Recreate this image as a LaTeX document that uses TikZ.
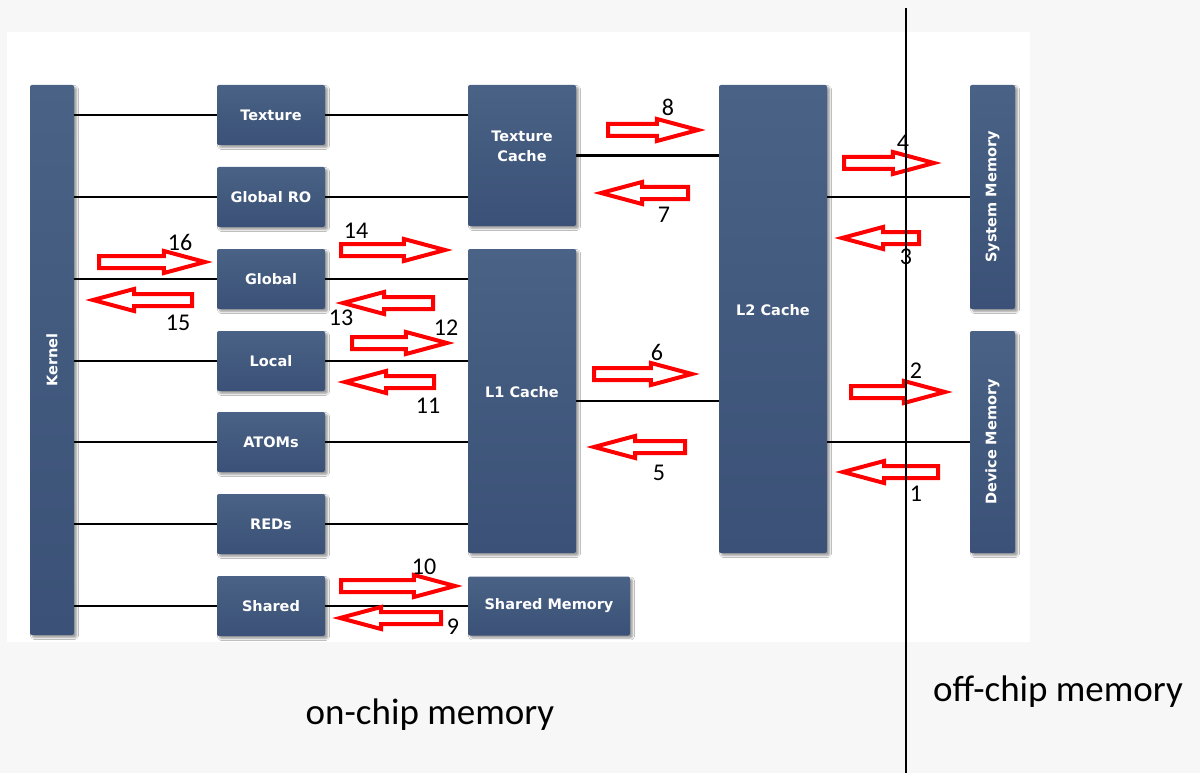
\documentclass[tikz,border=0pt]{standalone}
\usepackage{fontspec}
\setmainfont{Carlito}
\newfontfamily\chipfont{DejaVu Sans}
\usetikzlibrary{shapes.arrows,shadows.blur}
\definecolor{chiptop}{HTML}{4A6286}
\definecolor{chipbot}{HTML}{3B5177}
\definecolor{pagegray}{HTML}{F7F7F7}
\definecolor{flowred}{HTML}{FF0000}
\newcommand{\ChipText}{\chipfont\bfseries\fontsize{14.5}{19}\selectfont}

\begin{document}
\begin{tikzpicture}[
  x=1pt, y=-1pt,
  chip/.style={
    rectangle, rounded corners=2pt, draw=none,
    top color=chiptop, bottom color=chipbot,
    text=white, font=\ChipText, align=center,
    inner sep=0pt, blur shadow={shadow xshift=2.5pt, shadow yshift=-2.5pt, shadow blur steps=6}
  },
  chiplabel/.style={font=\ChipText, text=white, align=center, inner sep=0pt},
  smallchip/.style={chip, minimum width=108pt, minimum height=60pt},
  wire/.style={line width=2.6pt, draw=black},
  flow/.style={
    single arrow, draw=flowred, fill=white, line width=4pt,
    minimum height=#1, minimum width=0pt, inner xsep=0pt, inner ysep=4pt,
    single arrow head extend=5pt, single arrow tip angle=30, anchor=tail
  },
  flowback/.style={flow=#1, shape border rotate=180},
  tag/.style={font=\fontsize{24}{26}\selectfont, inner sep=0pt},
  region/.style={font=\fontsize{37}{40}\selectfont, inner sep=0pt}
]

% ---------- Page + panel ----------
\fill[pagegray] (0,0) rectangle (1200,773);
\fill[white] (7,32) rectangle (1030,642);
\useasboundingbox (0,0) rectangle (1200,773);

% ---------- Blocks ----------
\node[chip, minimum width=44pt, minimum height=550pt,
      label={[chiplabel, rotate=90]center:Kernel}] (kernel) at (52,360) {};

\node[smallchip] (texture)  at (271,115) {Texture};
\node[smallchip] (globalro) at (271,197) {Global RO};
\node[smallchip] (global)   at (271,279) {Global};
\node[smallchip] (local)    at (271,361) {Local};
\node[smallchip] (atoms)    at (271,442) {ATOMs};
\node[smallchip] (reds)     at (271,524) {REDs};
\node[smallchip] (shared)   at (271,606) {Shared};

\node[chip, minimum width=108pt, minimum height=141pt,
      label={[chiplabel, yshift=9pt]center:Texture\\[1pt]Cache}] (texcache) at (522,155.5) {};
\node[chip, minimum width=108pt, minimum height=304pt,
      label={[chiplabel, yshift=9pt]center:L1 Cache}] (lone) at (522,401) {};
\node[chip, minimum width=162pt, minimum height=59pt] (sharedmem) at (549,606) {Shared Memory};
\node[chip, minimum width=108pt, minimum height=468pt,
      label={[chiplabel, yshift=9pt]center:L2 Cache}] (ltwo) at (773,319) {};

\node[chip, minimum width=45pt, minimum height=224pt,
      label={[chiplabel, rotate=90]center:System Memory}] (sysmem) at (992.5,197) {};
\node[chip, minimum width=45pt, minimum height=222pt,
      label={[chiplabel, rotate=90]center:Device Memory}] (devmem) at (992.5,442) {};

% ---------- Wires ----------
\foreach \blk in {texture, globalro, global, local, atoms, reds, shared}
  \draw[wire] (kernel.east |- \blk) -- (\blk.west);
\draw[wire] (texture.east)  -- (texcache.west |- texture);
\draw[wire] (globalro.east) -- (texcache.west |- globalro);
\draw[wire] (global.east)   -- (lone.west |- global);
\draw[wire] (local.east)    -- (lone.west |- local);
\draw[wire] (atoms.east)    -- (lone.west |- atoms);
\draw[wire] (reds.east)     -- (lone.west |- reds);
\draw[wire] (shared.east)   -- (sharedmem.west |- shared);
\draw[wire] (texcache.east) -- (ltwo.west |- texcache);
\draw[wire] (lone.east)     -- (ltwo.west |- lone);
\draw[wire] (ltwo.east |- sysmem) -- (sysmem.west);
\draw[wire] (ltwo.east |- devmem) -- (devmem.west);

% ---------- Flow arrows (placed by their tail) ----------
\node[flow=106pt]     (f16) at (97,262)  {};
\node[flowback=99pt]  (f15) at (194,300) {};
\node[flow=104pt]     (f14) at (339,250) {};
\node[flowback=90pt]  (f13) at (435,303) {};
\node[flow=95pt]      (f12) at (350,343) {};
\node[flowback=89pt]  (f11) at (436,382) {};
\node[flow=114pt]     (f10) at (339,586) {};
\node[flowback=101pt] (f9)  at (443,618) {};
\node[flow=90pt]      (f8)  at (606,130) {};
\node[flowback=87pt]  (f7)  at (690,193) {};
\node[flow=98pt]      (f6)  at (592,374) {};
\node[flowback=91pt]  (f5)  at (687,447) {};
\node[flow=90pt]      (f4)  at (842,163) {};
\node[flowback=77pt]  (f3)  at (921,238) {};
\node[flow=94pt]      (f2)  at (849,392) {};
\node[flowback=95pt]  (f1)  at (940,472) {};

% ---------- Flow numbers ----------
\node[tag] (n16) at (180,242) {16};
\node[tag] (n15) at (178,323) {15};
\node[tag] (n14) at (356,231) {14};
\node[tag] (n13) at (341,318) {13};
\node[tag] (n12) at (446,328) {12};
\node[tag] (n11) at (428,406) {11};
\node[tag] (n10) at (424,567) {10};
\node[tag] (n9)  at (453,627) {9};
\node[tag] (n8)  at (668,107) {8};
\node[tag] (n7)  at (664,215) {7};
\node[tag] (n6)  at (657,352) {6};
\node[tag] (n5)  at (659,473) {5};
\node[tag] (n4)  at (903,143) {4};
\node[tag] (n3)  at (906,257) {3};
\node[tag] (n2)  at (916,371) {2};
\node[tag] (n1)  at (916,494) {1};

% ---------- Chip boundary ----------
\coordinate (cuttop) at (906,8);
\coordinate (cutbot) at (906,773);
\draw[line width=2.6pt] (cuttop) -- (cutbot);
\node[region] (onchip)  at (430,715) {on-chip memory};
\node[region] (offchip) at (1058,692) {off-chip memory};

\end{tikzpicture}
\end{document}
